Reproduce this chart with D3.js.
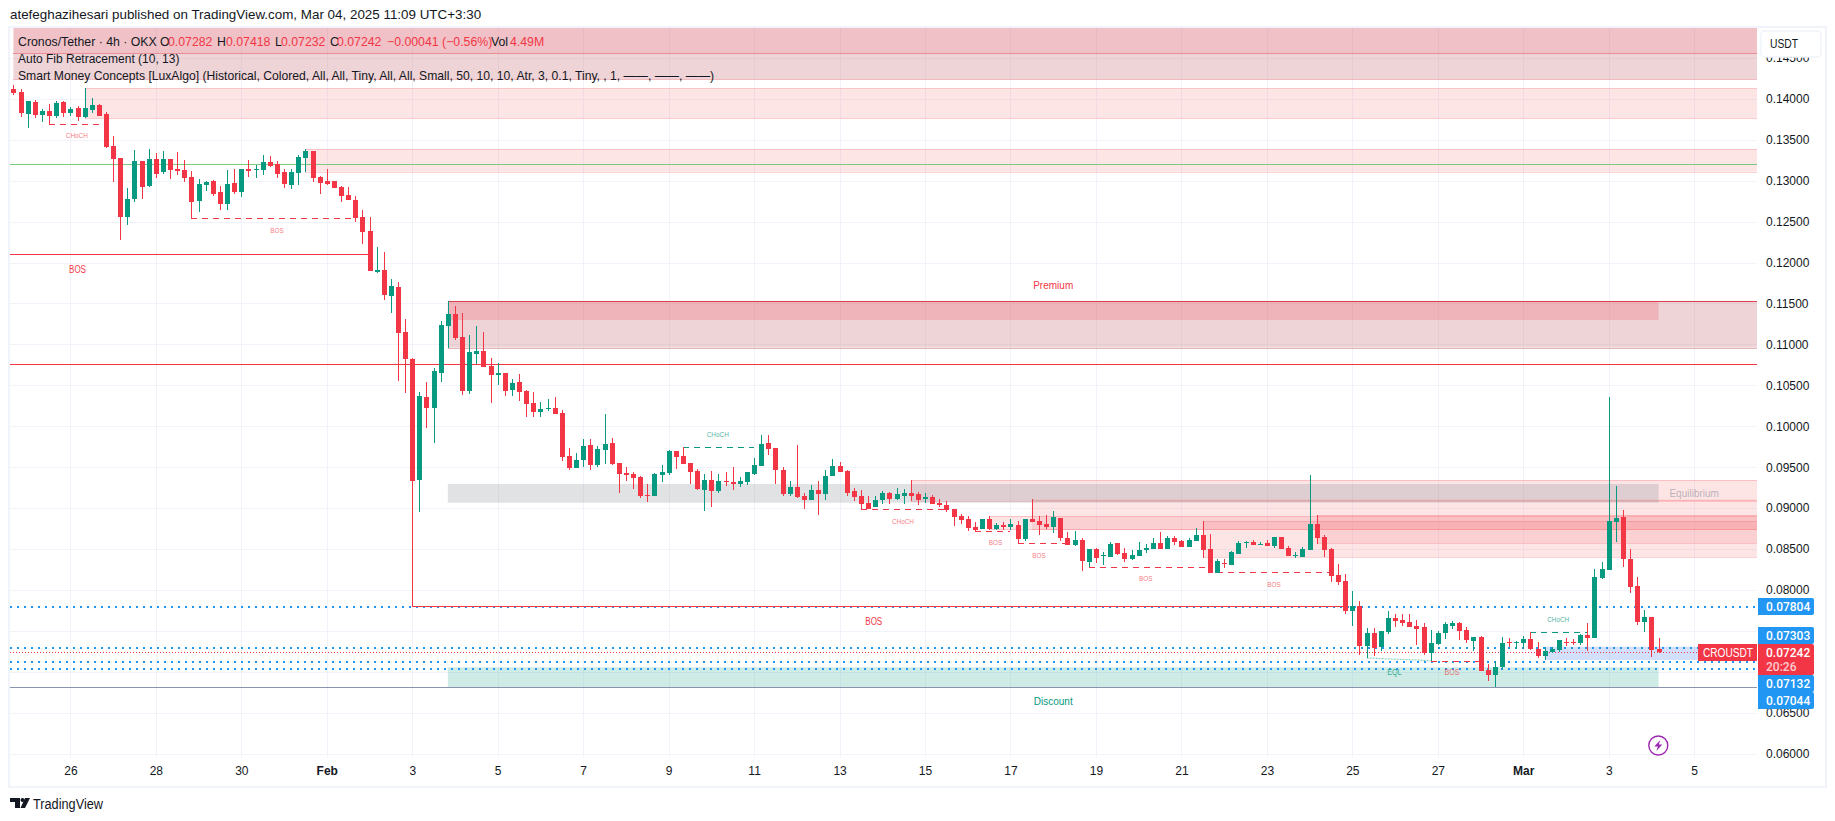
<!DOCTYPE html>
<html><head><meta charset="utf-8">
<script src="https://d3js.org/d3.v7.min.js"></script>
<style>
html,body{margin:0;padding:0;background:#fff;}
svg{display:block;}
text{font-family:"Liberation Sans",Arial,sans-serif;}
</style></head><body>
<svg id="c" width="1835" height="821"></svg>
<script>
// ---------- data (bar 0 = first visible candle, 4h bars, UTC+3:30) ----------
const opens=[.1412,.14083,.13815,.13961,.13803,.13852,.1379,.13961,.13827,.13888,
.13778,.13864,.13925,.13815,.13424,.13277,.12557,.12776,.13241,.12935,
.13265,.13106,.13265,.13143,.13131,.13045,.12752,.12947,.12996,.12862,
.12715,.12972,.12862,.13143,.13131,.13131,.13228,.13204,.13106,.12947,
.13094,.13277,.13363,.13045,.12996,.12996,.12923,.12825,.12764,.12557,
.12386,.11885,.11909,.11591,.11701,.11152,.10822,.09344,.10358,.10223,
.10651,.11225,.11372,.11091,.10431,.10883,.10919,.10736,.10626,.10651,
.10443,.10541,.10431,.10285,.10175,.10211,.10223,.10162,.09637,.09491,
.09588,.09771,.09527,.0971,.09796,.09552,.0943,.09417,.09381,.09161,
.09148,.09405,.0943,.09698,.09637,.09552,.09454,.09222,.09344,.09209,
.09332,.09319,.09295,.09319,.09417,.09515,.09796,.09735,.09466,.09173,
.09258,.09148,.09099,.09222,.09173,.09393,.09515,.09454,.09209,.09148,
.09063,.09014,.09099,.09185,.09112,.09148,.09185,.09173,.09112,.09136,
.09063,.09038,.08989,.08904,.08867,.08769,.08745,.08867,.08745,.08794,
.08769,.08794,.08623,.08867,.08843,.08806,.08769,.0888,.08635,.0855,
.08611,.08342,.08501,.08415,.08403,.08574,.08452,.08379,.08415,.08489,
.08501,.08574,.08501,.08635,.08598,.08525,.08598,.08672,.08501,.08207,
.0833,.08305,.0844,.08574,.08586,.0855,.08574,.08537,.08647,.08513,
.08415,.08403,.08489,.08806,.08647,.08501,.08183,.0811,.07743,.07805,
.07316,.07475,.07304,.07487,.07658,.07634,.07609,.0756,.07548,.0723,
.0734,.07475,.0756,.07597,.07511,.07377,.07426,.07023,.06962,.0706,
.07365,.07353,.07353,.07401,.07279,.07194,.07243,.07267,.07365,.07365,
.07353,.0745,.07414,.08146,.08244,.08831,.08892,.08379,.08049,.07609,
.0767,.07282];
const highs=[.14169,.1412,.13974,.13986,.13876,.13937,.13974,.13974,.139,.13913,
.14132,.1401,.13937,.13839,.13546,.13277,.12911,.13375,.13241,.13387,
.13338,.13363,.13265,.13351,.13253,.13119,.13021,.12996,.13009,.12935,
.13131,.13143,.13143,.13253,.13192,.13314,.13302,.13241,.13143,.13143,
.13314,.13387,.13363,.13057,.13143,.12996,.12935,.12923,.12813,.12642,
.12557,.1219,.12129,.11799,.11762,.11311,.10834,.10419,.10541,.10712,
.11286,.1153,.11469,.11384,.11115,.11225,.11152,.10834,.10773,.10651,
.10577,.10638,.10443,.10419,.10297,.10333,.10358,.10199,.09735,.09674,
.09845,.09845,.09759,.1015,.09857,.09552,.09503,.09442,.09393,.09295,
.0943,.09527,.0971,.09698,.09747,.09552,.09479,.09417,.09454,.09417,
.09442,.09503,.09381,.09442,.09613,.09893,.09893,.09735,.09503,.09332,
.09771,.09185,.09283,.09332,.09466,.09601,.09564,.09466,.09246,.09222,
.09148,.09148,.09209,.09197,.09246,.09234,.09344,.09197,.09185,.09161,
.09112,.09087,.08989,.08928,.08904,.08831,.08867,.08904,.08818,.08831,
.08867,.08843,.08867,.09112,.08904,.08916,.08965,.0888,.08708,.08721,
.08635,.08501,.08513,.08464,.08586,.08574,.08513,.08489,.08586,.08562,
.08635,.08708,.0866,.0866,.08611,.08635,.08757,.08843,.08684,.08379,
.08379,.08476,.08598,.08598,.08611,.08586,.08611,.08647,.08647,.08537,
.08464,.08525,.09405,.08916,.08672,.08513,.08318,.08195,.07988,.07866,
.07536,.07536,.07499,.07743,.07707,.07707,.07707,.07634,.07597,.07511,
.07499,.07609,.07621,.07609,.07548,.07426,.07438,.07096,.07133,.07426,
.07414,.07377,.07438,.07487,.07365,.07304,.07304,.07389,.07414,.07401,
.07462,.07597,.08256,.08342,.10358,.09271,.08977,.08501,.08159,.07756,
.0767,.07418];
const lows=[.14047,.13778,.13644,.13766,.13717,.1368,.13766,.13778,.1379,.13729,
.13766,.13827,.1379,.13399,.12984,.12276,.12459,.1274,.12776,.12923,
.13033,.13082,.13021,.1307,.12984,.12545,.12618,.12874,.12813,.12642,
.12642,.12838,.12801,.13045,.13033,.1307,.13167,.13033,.12911,.12899,
.12947,.13106,.12984,.12838,.12947,.12911,.1274,.12764,.12496,.12227,
.11897,.11872,.11543,.11384,.10553,.10406,.07804,.08953,.09979,.09796,
.10541,.10956,.11054,.10382,.10394,.10761,.10724,.10285,.10504,.1037,
.1037,.10309,.10114,.10114,.10114,.10187,.1015,.09576,.09466,.09491,
.09503,.09466,.09503,.0954,.09527,.09185,.09332,.09234,.09124,.09075,
.09148,.09319,.09405,.09479,.0954,.09295,.09222,.08965,.09014,.09185,
.09271,.09222,.09258,.09283,.09405,.09515,.09649,.09295,.09148,.09148,
.09124,.08989,.09099,.08916,.09099,.09393,.09442,.09148,.09087,.08977,
.08989,.09014,.09051,.09051,.09099,.09051,.09087,.09038,.09063,.09051,
.09014,.08953,.08782,.08806,.08721,.08708,.08745,.08733,.08733,.08733,
.08733,.08562,.08598,.08831,.08672,.08745,.08696,.08598,.0855,.08537,
.08232,.08281,.0833,.08305,.08403,.08427,.08342,.08366,.08415,.08452,
.08501,.08501,.08501,.0855,.08525,.08525,.08598,.08391,.08207,.08207,
.08269,.08305,.0844,.08513,.0855,.0855,.08537,.08513,.08501,.08415,
.08391,.08403,.08489,.08562,.08403,.08098,.08061,.07707,.0756,.07206,
.07169,.07194,.07255,.07462,.07548,.0756,.07548,.07328,.07206,.07133,
.07328,.07401,.07524,.07389,.07353,.07255,.07011,.06889,.06815,.07035,
.07304,.07279,.07279,.07267,.07169,.07145,.0723,.07243,.07316,.07328,
.07328,.07255,.07414,.08134,.08244,.08586,.08281,.07963,.07572,.07487,
.07182,.07232];
const closes=[.14071,.13827,.13974,.13803,.13852,.1379,.13949,.13827,.13876,.13778,
.13888,.13925,.1379,.13412,.13265,.12557,.12776,.13241,.12923,.13265,
.13082,.13265,.13131,.13119,.13033,.1274,.1296,.12984,.12838,.12715,
.1296,.12862,.13143,.13119,.13143,.13228,.13179,.13082,.1296,.13106,
.1329,.13363,.13033,.12972,.1296,.12911,.12813,.12764,.12545,.12374,
.11897,.11909,.11604,.11713,.1114,.10822,.09332,.1037,.10223,.10675,
.11237,.11372,.11078,.10431,.10907,.10919,.10724,.10626,.10651,.10431,
.10528,.10419,.10272,.10175,.10211,.10223,.1015,.09625,.09491,.09588,
.09759,.09527,.09722,.09783,.0954,.09417,.09405,.09368,.09148,.09148,
.09417,.09442,.09698,.09625,.0954,.09442,.09234,.09344,.09209,.09332,
.09319,.09295,.09332,.09442,.09527,.09783,.09722,.09466,.09173,.09258,
.09136,.09099,.09222,.09173,.09393,.09515,.09442,.09185,.09136,.09051,
.08989,.09099,.09185,.09112,.09173,.09185,.09148,.09099,.09136,.09051,
.09038,.08977,.08892,.08855,.08757,.08733,.08867,.08745,.08794,.08769,
.08806,.08623,.08867,.08831,.08794,.08769,.08892,.08635,.0855,.08611,
.08354,.08501,.08391,.08427,.08562,.0844,.08379,.08427,.08489,.08513,
.08574,.08501,.08635,.08586,.08525,.08611,.08672,.08489,.08207,.08354,
.08318,.08464,.08574,.08586,.0855,.08562,.08537,.08647,.08501,.08415,
.08427,.08501,.08806,.08635,.08489,.08171,.08098,.07743,.07805,.07316,
.07475,.07292,.07499,.07658,.07621,.07597,.07548,.07524,.0723,.07353,
.07475,.07585,.07597,.07499,.07389,.07426,.07011,.06962,.0706,.07353,
.07353,.07365,.07401,.07279,.07194,.07255,.07279,.07389,.07353,.07353,
.0745,.07414,.08159,.08256,.08843,.0888,.08379,.08037,.07609,.0767,
.07267,.07242];
const timeLabels=["26","28","30","Feb","3","5","7","9","11","13","15","17","19","21","23","25","27","Mar","3","5"];
const priceTicks=[.06,.065,.07,.075,.08,.085,.09,.095,.1,.105,.11,.115,.12,.125,.13,.135,.14,.145];
const priceTickLabels=[.06,.065,.08,.085,.09,.095,.1,.105,.11,.115,.12,.125,.13,.135,.14,.145]; // .07 and .075 sit behind the price tags
// zones: [first bar, last bar (null = to the pane edge), upper price, lower price]
const zoneHeaderDark=[0,null,.15,.1456];
const zoneHeaderLight=[0,null,.1456,.14242];
const zoneOB1=[10,null,.14129,.13762];
const zoneOB2=[41,null,.13384,.1311];
const zonePremiumDark=[61,231,.1153,.11298];
const zonePremiumLight=[61,null,.1153,.1096];
const zoneEquilibrium=[61,231,.09295,.09066];
const zoneDiscount=[61,231,.07056,.06811];
const zonesBear=[[126,null,.09344,.09087],[143,null,.09105,.08739],[137,null,.08904,.08739],[167,null,.08843,.08403],[183,null,.08916,.08574]];
const zoneBlue=[215,null,.07307,.07145];
const fibLevels=[.07804,.07303,.07132,.07044];
const lastPrice=.07242;
const solidGreen=.13199, solidRedTop=.12101, solidRedMid=.10757, solidBottom=.06811;
// dashed structure lines: [first bar, last bar, start price, end price, kind]
const structure=[[5,12,.13689,.13689,"r"],[25,48,.12545,.12545,"r"],[94,104,.09743,.09743,"g"],[119,131,.08985,.08985,"r"],
[135,140,.08717,.08717,"r"],[141,148,.0857,.0857,"r"],[151,168,.08277,.08277,"r"],[169,185,.08216,.08216,"r"],
[199,206,.07136,.07136,"r"],[213,221,.07483,.07483,"g"]];
const eqlLine=[190,199,.07169,.07137];
const bosMajor=[56,187,.07804];
// labels: [text, bar, price, kind]
const labels=[["CHoCH",8.9,.13558,"rs"],["BOS",37,.12397,"rs"],["BOS",9,.11921,"rb"],["Premium",146,.1172,"rb"],
["Discount",146,.06632,"gb"],["Equilibrium",236,.09176,"eq"],["CHoCH",98.9,.09905,"gs"],["CHoCH",124.9,.08834,"rs"],
["BOS",137.9,.08586,"rs"],["BOS",144,.08427,"rs"],["BOS",159,.08146,"rs"],["BOS",177,.0807,"rs"],
["EQL",193.9,.07002,"gm"],["BOS",202,.07002,"rm"],["CHoCH",216.9,.07645,"gs"],["BOS",120.8,.07609,"rb"]];
const headerText="atefeghazihesari published on TradingView.com, Mar 04, 2025 11:09 UTC+3:30";
const legendLine2="Auto Fib Retracement (10, 13)";
const legendLine3="Smart Money Concepts [LuxAlgo] (Historical, Colored, All, All, Tiny, All, All, Small, 50, 10, 10, Atr, 3, 0.1, Tiny, , 1, ——, ——, ——)";

// ---------- layout ----------
const RED="#f23645",GREEN="#089981",BLUE="#2196f3";
const pane={l:10,r:1757,t:28,b:758};
const svg=d3.select("#c");
const x=d3.scaleLinear().domain([8,236]).range([70.4,1694.2]);
const y=d3.scaleLinear().domain([.06,.145]).range([753.7,57.9]);
const fmt=d3.format(".5f");

svg.append("defs").append("clipPath").attr("id","pane").append("rect")
 .attr("x",pane.l).attr("y",pane.t).attr("width",pane.r-pane.l).attr("height",pane.b-pane.t);
// frame
svg.append("rect").attr("x",9).attr("y",27).attr("width",1817).attr("height",760).attr("fill","none").attr("stroke","#f0f3fa").attr("stroke-width",2);

// grid
const timeTicks=d3.range(timeLabels.length).map(i=>8+12*i);
const grid=svg.append("g").attr("clip-path","url(#pane)").attr("shape-rendering","crispEdges");
grid.selectAll(".h").data(priceTicks).join("line").attr("x1",pane.l).attr("x2",pane.r)
 .attr("y1",d=>Math.round(y(d))+.5).attr("y2",d=>Math.round(y(d))+.5).attr("stroke","#f0f3fa");
grid.selectAll(".v").data(timeTicks).join("line").attr("y1",pane.t).attr("y2",pane.b)
 .attr("x1",d=>Math.round(x(d))+.5).attr("x2",d=>Math.round(x(d))+.5).attr("stroke","#f0f3fa");

const plot=svg.append("g").attr("clip-path","url(#pane)");
function zone(z,fill,border){
  const x0=x(z[0]),x1=z[1]===null?pane.r:x(z[1]);
  plot.append("rect").attr("x",x0).attr("width",x1-x0).attr("y",y(z[2])).attr("height",y(z[3])-y(z[2])).attr("fill",fill);
  if(border){[z[2],z[3]].forEach(p=>plot.append("line").attr("x1",x0).attr("x2",x1).attr("y1",Math.round(y(p))+.5).attr("y2",Math.round(y(p))+.5).attr("stroke",border).attr("shape-rendering","crispEdges"));}
}
zone(zoneHeaderDark,"rgba(222,120,130,.45)","rgba(230,120,130,.5)");
zone(zoneHeaderLight,"rgba(205,120,130,.32)","rgba(230,120,130,.5)");
zone(zoneOB1,"rgba(247,124,128,.2)","rgba(247,124,128,.35)");
zone(zoneOB2,"rgba(247,124,128,.2)","rgba(247,124,128,.35)");
zone(zonePremiumLight,"rgba(205,120,130,.32)",null);
zone(zonePremiumDark,"rgba(242,54,69,.2)",null);
zonesBear.forEach(z=>zone(z,"rgba(247,124,128,.2)","rgba(247,124,128,.35)"));
zone(zoneEquilibrium,"rgba(135,139,148,.25)",null);
zone(zoneDiscount,"rgba(8,153,129,.2)",null);
zone(zoneBlue,"rgba(33,100,243,.2)",null);
// premium edges
[[61,.1153,"#d8404e"],[61,.1096,"rgba(190,90,100,.45)"]].forEach(d=>plot.append("line").attr("x1",x(d[0])).attr("x2",pane.r).attr("y1",Math.round(y(d[1]))+.5).attr("y2",Math.round(y(d[1]))+.5).attr("stroke",d[2]).attr("shape-rendering","crispEdges"));

// solid lines
function hline(p,x0,x1,c,dash,w){
  plot.append("line").attr("x1",x0).attr("x2",x1).attr("y1",Math.round(y(p))+.5).attr("y2",Math.round(y(p))+.5)
   .attr("stroke",c).attr("stroke-width",w||1).attr("stroke-dasharray",dash||null).attr("shape-rendering","crispEdges");
}
hline(solidGreen,pane.l,pane.r,"#7bc97f");
hline(solidRedTop,pane.l,x(50),RED);
hline(solidRedMid,pane.l,pane.r,RED);
hline(solidBottom,pane.l,pane.r,"#8a94ae");
// dotted levels
fibLevels.forEach(p=>hline(p,pane.l,pane.r,BLUE,"2 5",2));
hline(lastPrice,pane.l,pane.r,RED,"1 2");
hline(bosMajor[2],x(bosMajor[0]),x(bosMajor[1]),RED);
// structure dashes
structure.forEach(s=>{
  plot.append("line").attr("x1",x(s[0])).attr("x2",x(s[1])).attr("y1",Math.round(y(s[2]))+.5).attr("y2",Math.round(y(s[3]))+.5)
   .attr("stroke",s[4]==="r"?RED:GREEN).attr("stroke-dasharray","6 5").attr("shape-rendering","crispEdges");
});
plot.append("line").attr("x1",x(eqlLine[0])).attr("x2",x(eqlLine[1])).attr("y1",y(eqlLine[2])).attr("y2",y(eqlLine[3]))
 .attr("stroke","rgba(8,153,129,.45)").attr("stroke-dasharray","2 1").attr("stroke-width",1.2);

// candles
const candles=opens.map((o,i)=>({i,o,h:highs[i],l:lows[i],c:closes[i]}));
const cg=plot.append("g").attr("shape-rendering","crispEdges");
const col=d=>d.c>=d.o?GREEN:RED;
cg.selectAll(".w").data(candles).join("rect").attr("x",d=>Math.round(x(d.i)))
 .attr("width",1).attr("y",d=>y(d.h)).attr("height",d=>y(d.l)-y(d.h)).attr("fill",col);
cg.selectAll(".b").data(candles).join("rect").attr("x",d=>Math.round(x(d.i))-2)
 .attr("width",5).attr("y",d=>y(Math.max(d.o,d.c))).attr("height",d=>Math.max(1,y(Math.min(d.o,d.c))-y(Math.max(d.o,d.c)))).attr("fill",col);

// labels
const lblStyle={rs:[8,"rgba(242,54,69,.7)"],gs:[8,"rgba(8,153,129,.75)"],rm:[9,"rgba(242,54,69,.7)"],gm:[9,"rgba(8,153,129,.8)"],rb:[10,RED],gb:[10,GREEN],eq:[10,"rgba(120,123,134,.5)"]};
plot.selectAll(".lbl").data(labels).join("text").text(d=>d[0]).attr("x",d=>x(d[1])).attr("y",d=>y(d[2])).attr("text-anchor","middle")
 .attr("dominant-baseline","central").attr("font-size",d=>lblStyle[d[3]][0]).attr("fill",d=>lblStyle[d[3]][1])
 .each(function(d){ if(/^(BOS|CHoCH|EQL)$/.test(d[0])){ this.setAttribute("lengthAdjust","spacingAndGlyphs"); this.setAttribute("textLength",this.getComputedTextLength()*.8);} });

// axes
const axR=svg.append("g").attr("transform",`translate(${pane.r+9},0)`).call(d3.axisRight(y).tickValues(priceTickLabels).tickFormat(fmt).tickSize(0).tickPadding(0));
axR.select(".domain").remove();
axR.selectAll("text").attr("font-size",12).attr("fill","#131722").style("font-family",'"Liberation Sans",Arial,sans-serif');
const barLabel=new Map(timeTicks.map((t,i)=>[t,timeLabels[i]]));
const axB=svg.append("g").attr("transform","translate(0,766)").call(d3.axisBottom(x).tickValues(timeTicks).tickFormat(d=>barLabel.get(d)).tickSize(0).tickPadding(0));
axB.select(".domain").remove();
axB.selectAll("text").attr("font-size",12).attr("fill","#131722").attr("font-weight",d=>/[A-Z]/.test(barLabel.get(d))?"bold":"normal").style("font-family",'"Liberation Sans",Arial,sans-serif');

// USDT button
svg.append("rect").attr("x",1761).attr("y",31).attr("width",60).attr("height",26).attr("rx",4).attr("fill","#fff").attr("stroke","#f0f3fa").attr("stroke-width",1.5);
svg.append("text").text("USDT").attr("x",1770).attr("y",44).attr("dominant-baseline","central").attr("font-size",12).attr("fill","#131722").attr("textLength",28).attr("lengthAdjust","spacingAndGlyphs");

// price labels
function plabel(p,top,h,c,txt){
  svg.append("path").attr("d",`M1758 ${top}H1812a2 2 0 0 1 2 2V${top+h-2}a2 2 0 0 1 -2 2H1758Z`).attr("fill",c);
  svg.append("text").text(txt||fmt(p)).attr("x",1766).attr("y",top+8.5).attr("dominant-baseline","central").attr("font-size",12).attr("fill","#fff").style("font-family","Roboto").attr("font-weight",500);
}
plabel(fibLevels[1],627,17,BLUE);
plabel(fibLevels[3],692,17,BLUE);
plabel(fibLevels[2],675,17,BLUE);
plabel(fibLevels[0],598,17,BLUE);
plabel(lastPrice,644,31,RED);
svg.append("text").text("20:26").attr("x",1766).attr("y",667).attr("dominant-baseline","central").attr("font-size",12).attr("fill","rgba(255,255,255,.75)").style("font-family","Roboto").attr("font-weight",500);
svg.append("rect").attr("x",1698).attr("y",644).attr("width",59).attr("height",17).attr("fill",RED);
svg.append("text").text("CROUSDT").attr("x",1703).attr("y",652.5).attr("dominant-baseline","central").attr("font-size",12).attr("fill","#fff").attr("textLength",50).attr("lengthAdjust","spacingAndGlyphs");

// header & legend
svg.append("text").text(headerText).attr("x",10).attr("y",14.5).attr("dominant-baseline","central").attr("font-size",13.4).attr("fill","#131722");
const leg=svg.append("text").attr("y",41.5).attr("dominant-baseline","central").attr("font-size",12.3).attr("fill","#131722");
[["Cronos/Tether · 4h · OKX",18,"#131722"],["O",160,"#131722"],["0.07282",168,RED],["H",217,"#131722"],["0.07418",226,RED],["L",275,"#131722"],["0.07232",281,RED],["C",330,"#131722"],["0.07242",337,RED],["−0.00041 (−0.56%)",387,RED],["Vol",491,"#131722"],["4.49M",510,RED]]
 .forEach(d=>leg.append("tspan").attr("x",d[1]).attr("fill",d[2]).text(d[0]));
svg.append("text").text(legendLine2).attr("x",18).attr("y",58.7).attr("dominant-baseline","central").attr("font-size",12).attr("fill","#131722");
svg.append("text").text(legendLine3).attr("x",18).attr("y",75.7).attr("dominant-baseline","central").attr("font-size",12.16).attr("fill","#131722");

// lightning badge
const bolt=svg.append("g").attr("transform","translate(1658.3,745.5)");
bolt.append("circle").attr("r",9.5).attr("fill","#fff").attr("stroke","#9c27b0").attr("stroke-width",1.4);
bolt.append("path").attr("d",d3.line()([[2,-5.5],[-4,1],[-0.5,1],[-2,5.5],[4,-1],[0.5,-1]])+"Z").attr("fill","#9c27b0");

// TradingView logo
const logo=svg.append("g").attr("transform","translate(10,797)");
logo.append("path").attr("d","M0 1H10V11H5V5H0Z").attr("fill","#131722");
logo.append("circle").attr("cx",12.5).attr("cy",3).attr("r",2).attr("fill","#131722");
logo.append("path").attr("d","M15 1H20L15 11H10.5Z").attr("fill","#131722");
svg.append("text").text("TradingView").attr("x",33).attr("y",803.5).attr("dominant-baseline","central").attr("font-size",14).attr("fill","#131722").attr("textLength",70).attr("lengthAdjust","spacingAndGlyphs");
</script></body></html>
